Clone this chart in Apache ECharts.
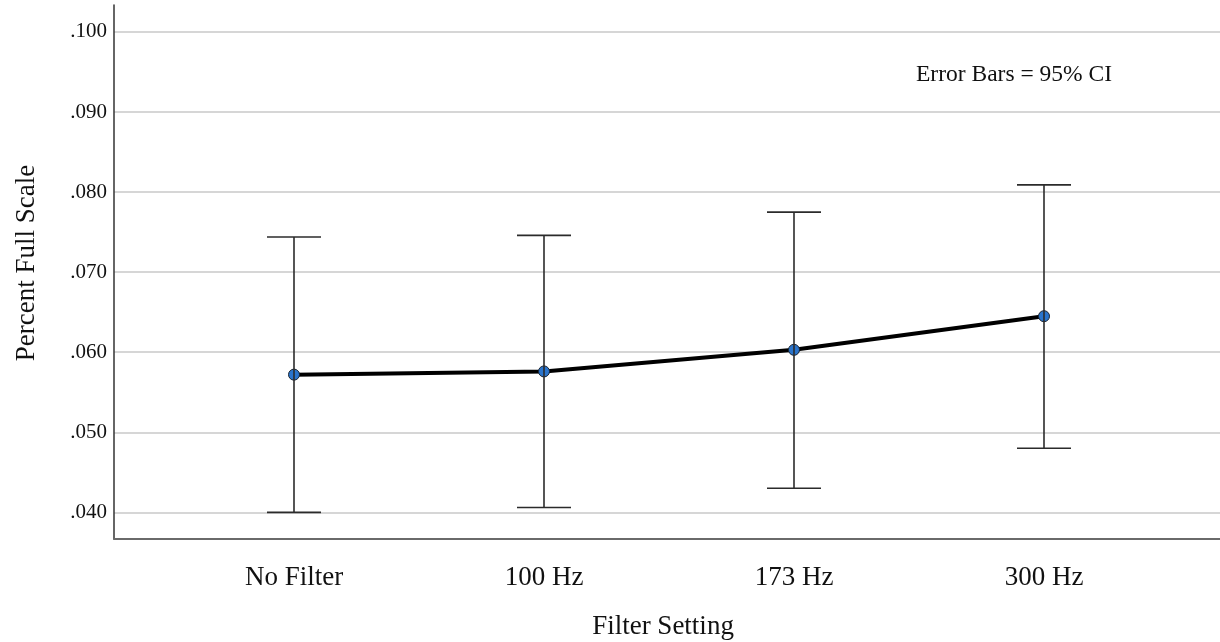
<!DOCTYPE html>
<html>
<head>
<meta charset="utf-8">
<script src="https://cdn.jsdelivr.net/npm/echarts@6/dist/echarts.min.js"></script>
<style>
html,body{margin:0;padding:0;background:#fff;}
#main{width:1220px;height:642px;}
</style>
</head>
<body>
<div id="main"></div>
<script>
// Data
const categories = ['No Filter', '100 Hz', '173 Hz', '300 Hz'];
const means = [0.0572, 0.0576, 0.0603, 0.0645];
const ciLow = [0.0400, 0.0406, 0.0430, 0.0480];
const ciHigh = [0.0744, 0.0746, 0.0775, 0.0809];
const yMin = 0.03667;
const yMax = 0.10337;

const serif = '"Liberation Serif", "Times New Roman", serif';

const errData = categories.map((c, i) => [i, ciLow[i], ciHigh[i]]);

const chart = echarts.init(document.getElementById('main'), null, {renderer: 'canvas'});
chart.setOption({
  backgroundColor: '#ffffff',
  animation: false,
  grid: [
    {left: 114, right: 0, top: 5, bottom: 103},
    {left: 169, width: 1000, top: 5, bottom: 103}
  ],
  xAxis: [
    {
      type: 'value', gridIndex: 0, min: 0, max: 1,
      axisLine: {show: true, lineStyle: {color: '#6a6a6a', width: 2}},
      axisTick: {show: false}, axisLabel: {show: false}, splitLine: {show: false}
    },
    {
      type: 'category', gridIndex: 1, data: categories, boundaryGap: true,
      axisLine: {show: false}, axisTick: {show: false}, splitLine: {show: false},
      axisLabel: {color: '#111', fontFamily: serif, fontSize: 27, margin: 25}
    }
  ],
  yAxis: [
    {
      type: 'value', gridIndex: 0, min: yMin, max: yMax,
      axisLine: {show: true, lineStyle: {color: '#333', width: 1.5}},
      axisTick: {show: false},
      axisLabel: {
        color: '#111', fontFamily: serif, fontSize: 21, margin: 7,
        showMinLabel: false, showMaxLabel: false,
        formatter: v => v.toFixed(3).replace(/^0/, '')
      },
      splitLine: {show: true, showMinLine: false, showMaxLine: false, lineStyle: {color: '#c8c8c8', width: 1.5}}
    },
    {
      type: 'value', gridIndex: 1, min: yMin, max: yMax, show: false,
      splitLine: {show: false}
    }
  ],
  graphic: [
    {type: 'text', x: 663, y: 627, style: {text: 'Filter Setting', font: '27px ' + serif, fill: '#111', textAlign: 'center', textVerticalAlign: 'middle'}},
    {type: 'text', x: 27, y: 263, rotation: Math.PI / 2, style: {text: 'Percent Full Scale', font: '27px ' + serif, fill: '#111', textAlign: 'center', textVerticalAlign: 'middle'}},
    {type: 'text', x: 916, y: 75, style: {text: 'Error Bars = 95% CI', font: '23.5px ' + serif, fill: '#111', textAlign: 'left', textVerticalAlign: 'middle'}}
  ],
  series: [
    {
      type: 'line', xAxisIndex: 1, yAxisIndex: 1, data: means,
      lineStyle: {color: '#000', width: 4},
      symbol: 'circle', symbolSize: 11,
      itemStyle: {color: '#2a74cc', borderColor: '#1a2533', borderWidth: 1},
      z: 2
    },
    {
      type: 'custom', xAxisIndex: 1, yAxisIndex: 1, data: errData, z: 3,
      renderItem: function (params, api) {
        const x = api.value(0);
        const lo = api.coord([x, api.value(1)]);
        const hi = api.coord([x, api.value(2)]);
        const hw = 27;
        const st = {stroke: '#2b2b2b', lineWidth: 1.6};
        return {
          type: 'group',
          children: [
            {type: 'line', shape: {x1: hi[0], y1: hi[1], x2: lo[0], y2: lo[1]}, style: st},
            {type: 'line', shape: {x1: hi[0] - hw, y1: hi[1], x2: hi[0] + hw, y2: hi[1]}, style: st},
            {type: 'line', shape: {x1: lo[0] - hw, y1: lo[1], x2: lo[0] + hw, y2: lo[1]}, style: st}
          ]
        };
      }
    }
  ]
});
</script>
</body>
</html>
